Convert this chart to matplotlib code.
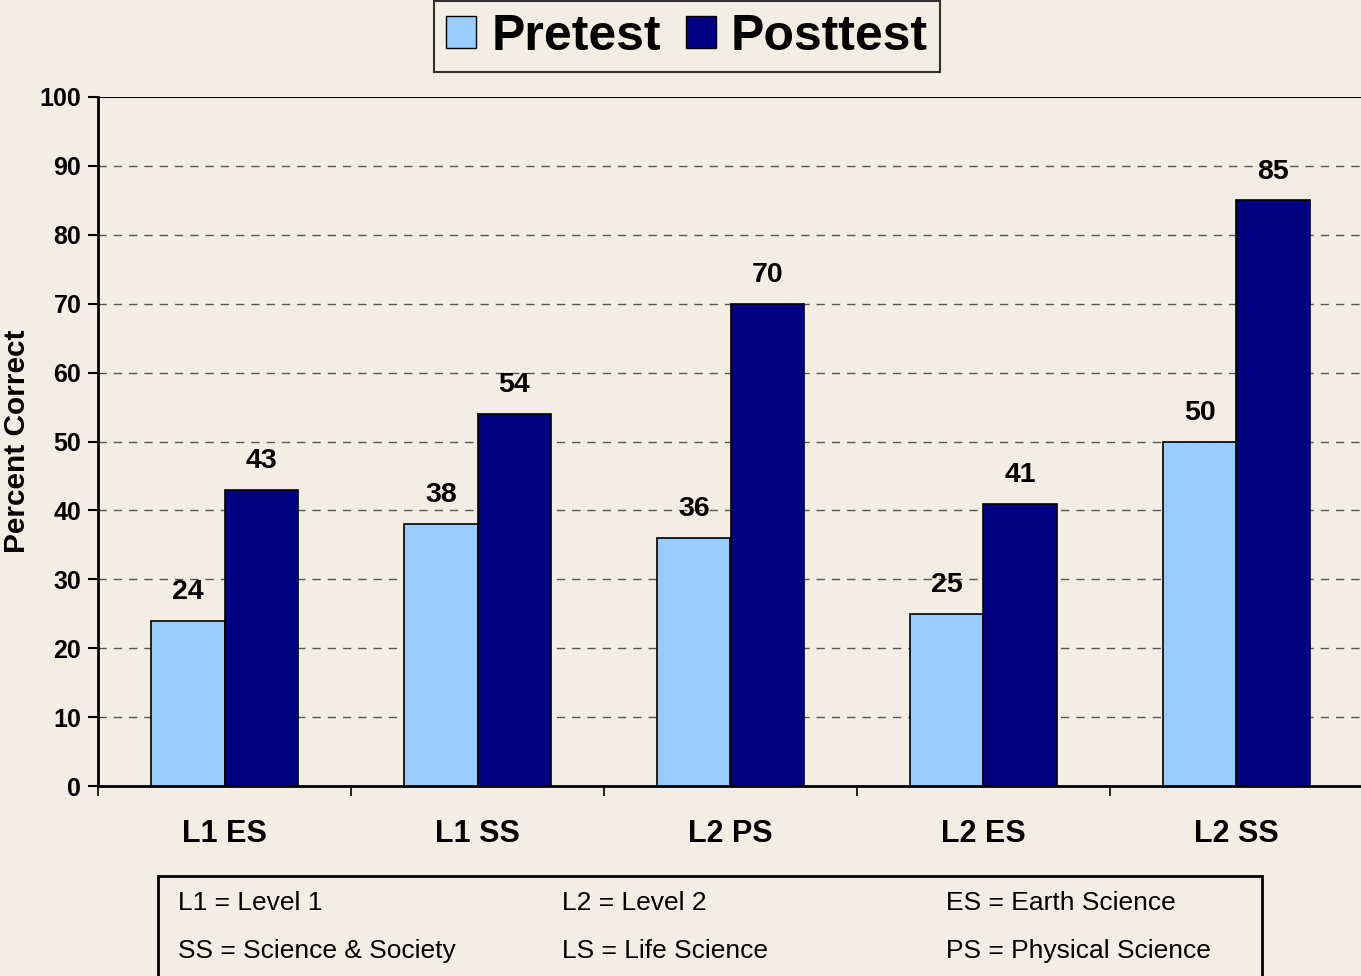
import matplotlib
matplotlib.use("Agg")
import matplotlib.pyplot as plt
import numpy as np
from matplotlib.patches import Rectangle

categories = ["L1 ES", "L1 SS", "L2 PS", "L2 ES", "L2 SS"]
pretest = [24, 38, 36, 25, 50]
posttest = [43, 54, 70, 41, 85]
series_names = ["Pretest", "Posttest"]
yticks = [0, 10, 20, 30, 40, 50, 60, 70, 80, 90, 100]
key_rows = [["L1 = Level 1", "L2 = Level 2", "ES = Earth Science"],
            ["SS = Science & Society", "LS = Life Science", "PS = Physical Science"]]

plt.rcParams['font.family'] = ['Liberation Sans', 'DejaVu Sans']
bg = "#F2EEE4"
c_pre = "#99CCFF"
c_post = "#000080"

fig = plt.figure(figsize=(13.61, 9.76), dpi=100, facecolor=bg)
ax = fig.add_axes([98/1361, 1-786/976, 1265/1361, (786-97)/976])
ax.set_facecolor(bg)

x = np.arange(len(categories))
w = 0.29
b1 = ax.bar(x - w/2, pretest, w, color=c_pre, edgecolor="black", linewidth=1.2, zorder=3)
b2 = ax.bar(x + w/2, posttest, w, color=c_post, edgecolor="black", linewidth=1.2, zorder=3)

for rect, v in zip(list(b1) + list(b2), pretest + posttest):
    ax.text(rect.get_x() + rect.get_width()/2, v + 2.3, str(v), ha="center", va="bottom",
            fontsize=20.5, fontweight="bold", zorder=4)

ax.set_xlim(-0.5, len(categories) - 0.5)
ax.set_ylim(0, 100)
ax.set_yticks(yticks)
ax.set_yticklabels([str(t) for t in yticks], fontsize=18, fontweight="bold")
for t in yticks[1:-1]:
    ax.axhline(t, color="#555555", linestyle=(0, (6, 5)), linewidth=1.0, zorder=1)
ax.axhline(100, color="black", linewidth=1.5, zorder=2)

ax.set_xticks(np.arange(len(categories) + 1) - 0.5, minor=False)
ax.set_xticklabels([])
ax.set_xticks(x, minor=True)
ax.set_xticklabels(categories, minor=True, fontsize=22, fontweight="bold")
ax.tick_params(axis="x", which="minor", length=0, pad=24)
ax.tick_params(axis="x", which="major", length=7, width=1.2, direction="out")
ax.tick_params(axis="y", length=7, width=1.5, direction="out", pad=5)

for s in ["top", "right"]:
    ax.spines[s].set_visible(False)
ax.spines["left"].set_linewidth(2)
ax.spines["bottom"].set_linewidth(2)

ax.set_ylabel("Percent Correct", fontsize=21.5, fontweight="bold")
ax.yaxis.set_label_coords(-(98 - 31)/1265, (786 - 441)/689)

# Legend
handles = [Rectangle((0, 0), 1, 1, facecolor=c_pre, edgecolor="black"),
           Rectangle((0, 0), 1, 1, facecolor=c_post, edgecolor="black")]
leg = fig.legend(handles, series_names, loc="upper center", bbox_to_anchor=(687/1361, 1.0),
                 ncol=2, frameon=True, fancybox=False, edgecolor="black",
                 prop={"size": 36, "weight": "bold"}, handlelength=0.6, handleheight=0.6,
                 handletextpad=0.3, columnspacing=0.5, borderpad=0.25, borderaxespad=0.02)
leg.get_frame().set_facecolor(bg)
leg.get_frame().set_linewidth(1.5)

# Key box
fig.patches.append(Rectangle((158/1361, -0.01), (1262-158)/1361, (1-876/976) + 0.01,
                             transform=fig.transFigure, facecolor=bg, edgecolor="black",
                             linewidth=2))
col_x = [178, 562, 946]
row_y = [903, 951]
for r, row in enumerate(key_rows):
    for c, txt in enumerate(row):
        fig.text(col_x[c]/1361, 1 - row_y[r]/976, txt, ha="left", va="center",
                 fontsize=19, family=["Liberation Sans Narrow", "Liberation Sans", "DejaVu Sans"])

fig.savefig("out.png", dpi=100, facecolor=bg)
